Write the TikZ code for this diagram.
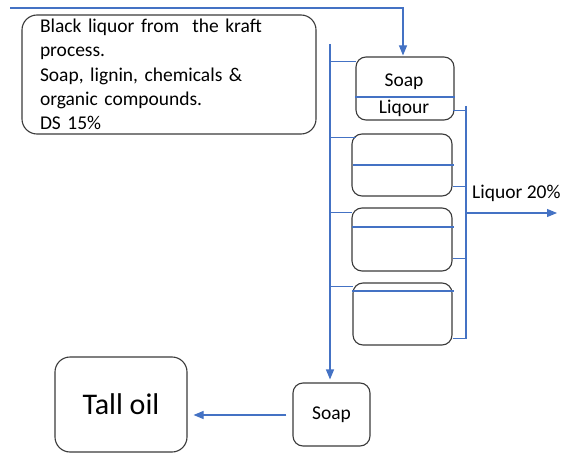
\documentclass[tikz,border=0pt]{standalone}
\usepackage{fontspec}
\setmainfont{Carlito}
\usetikzlibrary{arrows.meta,calc}
\definecolor{flow}{HTML}{4472C4}
\definecolor{edge}{HTML}{3A3A3A}
\tikzset{
  boxstyle/.style={draw=edge,line width=1.1pt,rectangle,inner sep=0pt,font=\fontsize{19.5}{24.3}\selectfont},
  tank/.style={boxstyle,rounded corners=10pt,minimum width=#1,minimum height=62pt},
  pipe/.style={draw=flow,line width=1.1pt},
  pipearrow/.style={pipe,-{Triangle[length=10pt,width=8pt]}},
  lbl/.style={font=\fontsize{19.5}{24.3}\selectfont,inner sep=0pt}
}
\begin{document}
\begin{tikzpicture}[x=1pt,y=-1pt]
\useasboundingbox (0,0) rectangle (564,454);
% boxes
\node[boxstyle,rounded corners=15pt,text width=258pt,align=left,inner xsep=18pt,minimum height=119pt] (feed) at (169,74.5)
  {Black liquor from\ \ the kraft\\process.\\Soap, lignin, chemicals \&\\organic compounds.\\DS 15\%};
\node[tank=98pt,minimum height=63pt] (box1) at (405,88.5) {};
\node[tank=100pt] (box2) at (402,165) {};
\node[tank=100pt,minimum height=63pt] (box3) at (402,239.5) {};
\node[tank=99pt] (box4) at (402.5,314) {};
\node[tank=77pt,minimum height=63pt] (soap) at (331.5,414.5) {Soap};
\node[boxstyle,rounded corners=15pt,minimum width=132pt,minimum height=95pt,font=\fontsize{30}{36}\selectfont] (tall) at (121,404.5) {Tall oil};
% text in first tank
\node[lbl] (tsoap) at (404,82) {Soap};
\node[lbl] (tliq) at (404,108) {Liqour};
% inner separation lines
\draw[pipe] ($(box1.west)+(0,8.5)$) -- ($(box1.east)+(0,8.5)$);
\draw[pipe] ($(box2.west)+(2,0)$) -- ($(box2.east)+(1,0)$);
\draw[pipe] ($(box3.west)+(1,-12.5)$) -- ($(box3.east)+(1,-12.5)$);
\draw[pipe] ($(box4.west)+(0,-23)$) -- ($(box4.east)+(1,-23)$);
% feed line
\coordinate (fstart) at (10,8);
\draw[pipearrow] (fstart) -| ($(box1.north)+(-2,-1)$);
% left bus
\coordinate (bustop) at (330,44);
\coordinate (b1) at ($(box1.north west)+(1,5)$);
\coordinate (b2) at ($(box2.north west)+(5,4)$);
\coordinate (b3) at ($(box3.north west)+(1,5)$);
\coordinate (b4) at ($(box4.north west)+(1,4)$);
\draw[pipearrow] (bustop) -- ($(bustop |- soap.north)+(0,-3)$);
\foreach \b in {b1,b2,b3,b4} \draw[pipe] (bustop |- \b) -- (\b);
% right bus
\coordinate (r1) at ($(box1.south east)+(-2,-10)$);
\coordinate (r2) at ($(box2.south east)+(0,-10)$);
\coordinate (r3) at ($(box3.south east)+(0,-13)$);
\coordinate (r4) at ($(box4.south east)+(0,-7)$);
\coordinate (rtop) at (466,106);
\draw[pipe] (rtop) -- (rtop |- r4);
\foreach \r in {r1,r2,r3,r4} \draw[pipe] (\r) -- (rtop |- \r);
\coordinate (outstart) at (466,213);
\coordinate (outend) at (557,213);
\draw[pipearrow] (outstart) -- (outend);
\node[lbl,anchor=west] (liq20) at (472,193) {Liquor 20\%};
% soap to tall oil
\draw[pipearrow] ([xshift=-6pt]soap.west |- 0,415) -- ([xshift=6pt]tall.east |- 0,415);
\end{tikzpicture}
\end{document}
